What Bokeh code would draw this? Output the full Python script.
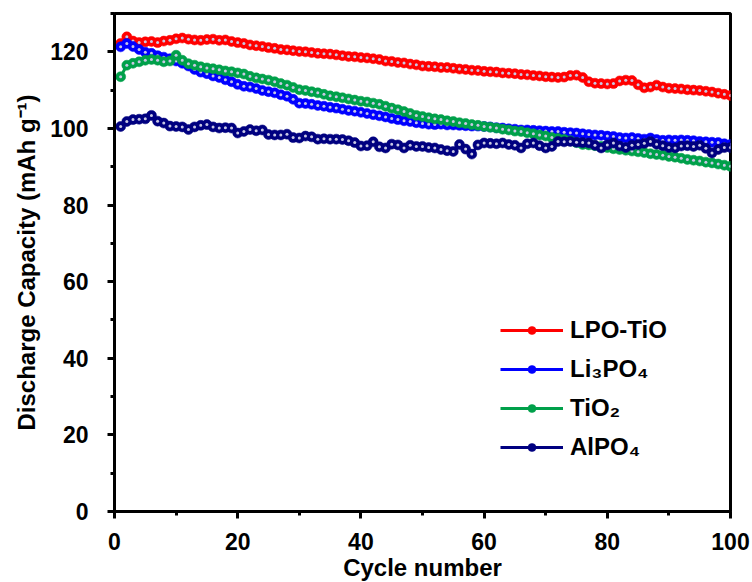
from bokeh.plotting import figure
from bokeh.models import Range1d, Legend, LegendItem, FixedTicker, ColumnDataSource
from bokeh.embed import file_html
from bokeh.resources import INLINE

cycles = list(range(1, 101))

lpo_tio = [122.2, 123.9, 122.8, 122.4, 122.6, 122.7, 122.4, 122.8, 123.0, 123.4,
           123.6, 123.3, 123.1, 123.0, 123.2, 123.3, 123.0, 123.1, 122.7, 122.4,
           122.2, 121.8, 121.6, 121.4, 121.1, 120.9, 120.6, 120.5, 120.3, 120.1,
           120.0, 119.8, 119.6, 119.5, 119.4, 119.2, 119.0, 118.8, 118.7, 118.5,
           118.4, 118.2, 118.0, 117.6, 117.5, 117.2, 117.1, 116.8, 116.6, 116.3,
           116.2, 116.1, 115.9, 115.9, 115.7, 115.5, 115.4, 115.2, 115.1, 114.9,
           114.8, 114.7, 114.5, 114.4, 114.3, 114.1, 114.0, 113.8, 113.7, 113.5,
           113.4, 113.3, 113.4, 113.8, 113.9, 113.3, 112.2, 111.8, 111.7, 111.6,
           111.7, 112.4, 112.6, 112.5, 111.4, 110.6, 110.8, 111.3, 110.8, 110.5,
           110.4, 110.3, 110.1, 110.0, 109.9, 109.7, 109.5, 109.2, 108.9, 108.6]

li3po4 = [121.3, 122.2, 121.4, 120.6, 119.9, 119.6, 119.0, 118.6, 118.2, 117.6,
          117.0, 116.3, 115.4, 114.7, 114.3, 113.7, 113.3, 112.7, 112.2, 111.5,
          111.0, 110.8, 110.4, 109.9, 109.6, 109.3, 108.8, 108.4, 107.6, 106.6,
          106.5, 106.3, 106.0, 105.8, 105.5, 105.3, 105.0, 104.7, 104.5, 104.2,
          103.9, 103.6, 103.3, 103.0, 102.6, 102.3, 102.0, 101.8, 101.5, 101.3,
          101.1, 101.0, 101.1, 100.9, 100.9, 100.8, 100.7, 100.6, 100.6, 100.5,
          100.4, 100.2, 100.1, 99.9, 99.8, 99.6, 99.6, 99.5, 99.4, 99.3,
          99.2, 99.2, 99.0, 98.9, 98.8, 98.6, 98.4, 98.3, 98.2, 98.0,
          97.9, 97.6, 97.5, 97.6, 97.4, 97.2, 97.5, 97.1, 96.9, 97.0,
          96.9, 97.0, 96.9, 96.8, 96.6, 96.5, 96.4, 96.3, 96.0, 95.8]

tio2 = [113.5, 116.5, 117.0, 117.4, 117.8, 118.0, 117.8, 117.4, 117.6, 119.1,
        117.8, 116.9, 116.5, 116.1, 115.8, 115.6, 115.3, 115.0, 114.8, 114.5,
        114.2, 113.6, 113.2, 112.9, 112.6, 112.2, 111.7, 111.3, 110.7, 110.1,
        109.9, 109.6, 109.3, 108.9, 108.5, 108.3, 108.0, 107.7, 107.4, 107.1,
        106.9, 106.6, 106.3, 105.8, 105.3, 104.9, 104.4, 103.9, 103.4, 103.1,
        102.8, 102.5, 102.3, 102.0, 101.8, 101.5, 101.3, 101.0, 100.8, 100.5,
        100.3, 100.1, 99.8, 99.6, 99.3, 99.2, 98.9, 98.6, 98.3, 98.0,
        97.6, 97.4, 97.1, 96.8, 96.3, 95.8, 95.7, 95.5, 95.3, 95.0,
        94.7, 94.5, 94.3, 94.1, 93.9, 93.7, 93.4, 93.2, 93.0, 92.7,
        92.5, 92.2, 91.9, 91.7, 91.5, 91.2, 91.0, 90.7, 90.4, 90.1]

alpo4 = [100.5, 101.8, 102.3, 102.4, 102.5, 103.4, 101.9, 101.4, 100.6, 100.5,
         100.4, 99.7, 100.4, 100.8, 101.0, 100.4, 100.1, 100.2, 100.1, 98.8,
         99.2, 99.7, 99.4, 99.6, 98.4, 98.3, 98.3, 98.5, 97.6, 97.5,
         98.0, 97.8, 97.2, 97.3, 97.2, 97.2, 97.1, 96.8, 96.3, 95.4,
         95.5, 96.5, 95.2, 94.9, 95.9, 95.7, 94.9, 95.6, 95.3, 95.3,
         95.0, 94.9, 94.5, 94.2, 94.0, 95.8, 94.6, 93.3, 95.7, 96.2,
         96.1, 96.0, 96.2, 95.8, 95.6, 94.9, 96.0, 96.2, 95.5, 94.9,
         95.3, 96.6, 96.5, 96.6, 96.4, 96.3, 96.2, 95.6, 94.9, 95.7,
         96.2, 95.4, 95.0, 95.6, 95.8, 96.1, 96.6, 95.9, 95.5, 95.0,
         94.9, 95.4, 95.5, 95.3, 95.6, 94.8, 93.6, 94.5, 95.0, 95.0]

labels = ["LPO-TiO", "Li\u2083PO\u2084", "TiO\u2082", "AlPO\u2084"]
colors = ["#ff0000", "#0000ff", "#00a04a", "#000080"]
series = [lpo_tio, li3po4, tio2, alpo4]

x_ticks = [0, 20, 40, 60, 80, 100]
y_ticks = [0, 20, 40, 60, 80, 100, 120]

FONT = "Liberation Sans"

p = figure(frame_width=616, frame_height=498,
           min_border_left=114, min_border_right=22,
           min_border_top=13, min_border_bottom=71,
           output_backend="svg", toolbar_location=None,
           x_range=Range1d(0, 100), y_range=Range1d(0, 130))

p.grid.visible = False
p.outline_line_color = "black"
p.outline_line_width = 3
p.background_fill_color = "white"
p.border_fill_color = "white"

xa = p.xaxis[0]
ya = p.yaxis[0]
for ax in (xa, ya):
    ax.axis_line_width = 3
    ax.major_tick_line_width = 3
    ax.minor_tick_line_width = 3
    ax.major_tick_out = 7
    ax.major_tick_in = 0
    ax.minor_tick_out = 4
    ax.minor_tick_in = 0
    ax.major_label_text_font = FONT
    ax.major_label_text_font_style = "bold"
    ax.major_label_text_font_size = "23px"
    ax.major_label_text_color = "black"
    ax.axis_label_text_font = FONT
    ax.axis_label_text_font_style = "bold"
    ax.axis_label_text_font_size = "24px"
    ax.axis_label_text_color = "black"

xa.ticker = FixedTicker(ticks=x_ticks, minor_ticks=list(range(0, 101, 10)))
ya.ticker = FixedTicker(ticks=y_ticks, minor_ticks=list(range(0, 131, 10)))
xa.axis_label = "Cycle number"
ya.axis_label = "Discharge Capacity (mAh g\u207b\u00b9)"
xa.major_label_standoff = 14
ya.major_label_standoff = 19
xa.axis_label_standoff = 1
ya.axis_label_standoff = 7

items = []
for lab, col, vals in zip(labels, colors, series):
    src = ColumnDataSource(dict(x=cycles, y=vals))
    ln = p.line("x", "y", source=src, line_color=col, line_width=3)
    big = p.scatter("x", "y", source=src, size=10, marker="circle",
                    fill_color=col, line_color=col, line_alpha=0.55, line_width=1)
    dot = p.scatter("x", "y", source=src, size=3, marker="circle",
                    fill_color="#c8c8e4", line_color=None)
    items.append(LegendItem(label=lab, renderers=[ln, big]))

legend = Legend(items=items, location=(386, 50),
                label_text_font=FONT, label_text_font_style="bold",
                label_text_font_size="24px", label_text_color="black",
                glyph_width=63, glyph_height=20, label_standoff=7,
                spacing=11, padding=0, margin=0,
                border_line_color=None, background_fill_alpha=0)
p.add_layout(legend, "center")

open("out.html", "w").write(file_html(p, INLINE))
